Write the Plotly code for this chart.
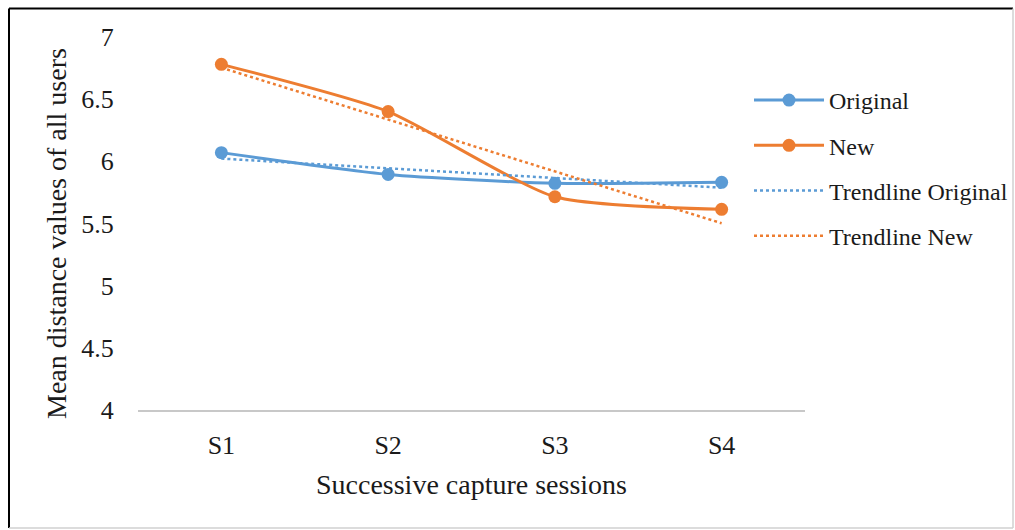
import plotly.graph_objects as go

sessions = ["S1", "S2", "S3", "S4"]
original = [6.07, 5.895, 5.823, 5.831]
new = [6.78, 6.40, 5.715, 5.614]
trend_original = [6.022, 5.944, 5.866, 5.788]
trend_new = [6.753, 6.336, 5.919, 5.502]

BLUE = "#5B9BD5"
ORANGE = "#ED7D31"
FONT = "Liberation Serif, Times New Roman, serif"

fig = go.Figure()
fig.add_trace(go.Scatter(x=sessions, y=original, name="Original", mode="lines+markers",
                         legendgroup="a",
                         line=dict(color=BLUE, width=3, shape="spline", smoothing=0.6),
                         marker=dict(size=13, color=BLUE)))
fig.add_trace(go.Scatter(x=sessions, y=new, name="New", mode="lines+markers",
                         legendgroup="b",
                         line=dict(color=ORANGE, width=3, shape="spline", smoothing=0.6),
                         marker=dict(size=13, color=ORANGE)))
fig.add_trace(go.Scatter(x=sessions, y=trend_original, name="Trendline Original", mode="lines",
                         legendgroup="c",
                         line=dict(color=BLUE, width=2.5, dash="dot")))
fig.add_trace(go.Scatter(x=sessions, y=trend_new, name="Trendline New", mode="lines",
                         legendgroup="d",
                         line=dict(color=ORANGE, width=2.5, dash="dot")))

L, R, T, B = 138, 210, 37, 120
W, H = 1015, 530
pw, ph = W - L - R, H - T - B

def px(x):
    return (x - L) / pw

def py(y):
    return (H - B - y) / ph

shapes = [
    dict(type="line", xref="paper", yref="paper", x0=px(9), x1=px(1013), y0=py(8.5), y1=py(8.5),
         line=dict(color="black", width=2)),
    dict(type="line", xref="paper", yref="paper", x0=px(9), x1=px(9), y0=py(8.5), y1=py(528),
         line=dict(color="black", width=2)),
    dict(type="line", xref="paper", yref="paper", x0=px(1013), x1=px(1013), y0=py(8.5), y1=py(528),
         line=dict(color="#d0d0d0", width=1.5)),
    dict(type="line", xref="paper", yref="paper", x0=px(9), x1=px(1013), y0=py(528), y1=py(528),
         line=dict(color="#d0d0d0", width=1.5)),
]

fig.update_layout(
    width=W, height=H,
    margin=dict(l=L, r=R, t=T, b=B, autoexpand=False),
    paper_bgcolor="white", plot_bgcolor="white",
    font=dict(family=FONT, color="#1a1a1a", size=22),
    showlegend=True,
    legend=dict(x=px(749), y=py(78), xanchor="left", yanchor="top",
                font=dict(family=FONT, size=24, color="#1a1a1a"),
                tracegroupgap=11, itemwidth=70, bgcolor="rgba(0,0,0,0)"),
    shapes=shapes,
    annotations=[dict(text="Mean distance values of all users", xref="paper", yref="paper",
                      x=px(56), y=py(234), textangle=-90, showarrow=False,
                      xanchor="center", yanchor="middle",
                      font=dict(family=FONT, size=28, color="#1a1a1a"))],
    xaxis=dict(range=[-0.5, 3.5], showgrid=False, showline=True, linecolor="#c8c8c8", linewidth=2,
               ticks="outside", ticklen=11, tickcolor="rgba(0,0,0,0)",
               tickfont=dict(size=26),
               title=dict(text="Successive capture sessions", font=dict(size=28), standoff=15)),
    yaxis=dict(range=[4, 7], dtick=0.5, showgrid=False, showline=False, zeroline=False,
               ticks="outside", ticklen=18, tickcolor="rgba(0,0,0,0)",
               tickfont=dict(size=26)),
)

fig.write_html("out.html")
